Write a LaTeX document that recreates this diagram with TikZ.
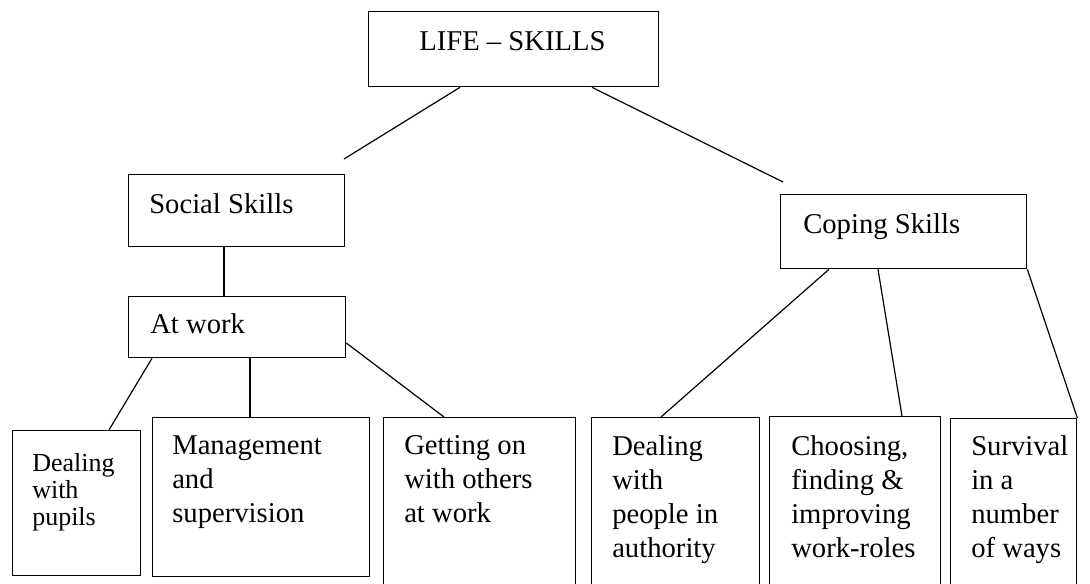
\documentclass[tikz,border=0pt]{standalone}
\usepackage{fontspec}
\setmainfont{Liberation Serif}
\tikzset{
  skillbox/.style 2 args={draw,line width=1pt,inner sep=0pt,anchor=north west,
    minimum width=#1*0.75pt,minimum height=#2*0.75pt},
  skilltext/.style={inner sep=0pt,anchor=north west,align=left,
    font=\fontsize{21.5}{25.5}\selectfont},
  smalltext/.style={skilltext,font=\fontsize{19.5}{20.5}\selectfont},
  link/.style={line width=0.9pt}
}
\begin{document}
\begin{tikzpicture}[x=0.75pt,y=-0.75pt]
  \useasboundingbox (0,0) rectangle (1090,584);
  \clip (0,0) rectangle (1090,584);
  \node[skillbox={290}{75}]  (life)   at (368,11)  {};
  \node[skillbox={216}{72}]  (social) at (128,174) {};
  \node[skillbox={246}{74}]  (coping) at (780,194) {};
  \node[skillbox={217}{61}]  (atwork) at (128,296) {};
  \node[skillbox={128}{145}] (pupils) at (12,430)  {};
  \node[skillbox={217}{159}] (mgmt)   at (152,417) {};
  \node[skillbox={192}{200}] (others) at (383,417) {};
  \node[skillbox={168}{200}] (auth)   at (591,417) {};
  \node[skillbox={171}{200}] (choose) at (769,416) {};
  \node[skillbox={126}{200}] (surv)   at (950,418) {};
  % texts sit in the upper left of each box
  \node[skilltext] (lifetxt)   at (419,31) {LIFE -- SKILLS};
  \node[skilltext] (socialtxt) at (149,193)  {Social Skills};
  \node[skilltext] (copingtxt) at (803,213)  {Coping Skills};
  \node[skilltext] (atworktxt) at (150,313)  {At work};
  \node[smalltext] (pupilstxt) at (32,453)   {Dealing\\with\\pupils};
  \node[skilltext] (mgmttxt)   at (172,435)  {Management\\and\\supervision};
  \node[skilltext] (otherstxt) at (404,435)  {Getting on\\with others\\at work};
  \node[skilltext] (authtxt)   at (612,435)  {Dealing\\with\\people in\\authority};
  \node[skilltext] (choosetxt) at (791,435)  {Choosing,\\finding \&\\improving\\work-roles};
  \node[skilltext] (survtxt)   at (971,435)  {Survival\\in a\\number\\of ways};
  \coordinate (socialend) at (344,159);
  \coordinate (copingend) at (783,182);
  \draw[link] (460,0 |- life.south) -- (socialend);
  \draw[link] (592,0 |- life.south) -- (copingend);
  \draw[link] (224,0 |- social.south) -- (224,0 |- atwork.north);
  \draw[link] (152,0 |- atwork.south) -- (109,0 |- pupils.north);
  \draw[link] (250,0 |- atwork.south) -- (250,0 |- mgmt.north);
  \draw[link] (atwork.east |- 0,343) -- (444,0 |- others.north);
  \draw[link] (829,0 |- coping.south) -- (661,0 |- auth.north);
  \draw[link] (878,0 |- coping.south) -- (902,0 |- choose.north);
  \draw[link] (coping.south east) -- (surv.north east);
\end{tikzpicture}
\end{document}
